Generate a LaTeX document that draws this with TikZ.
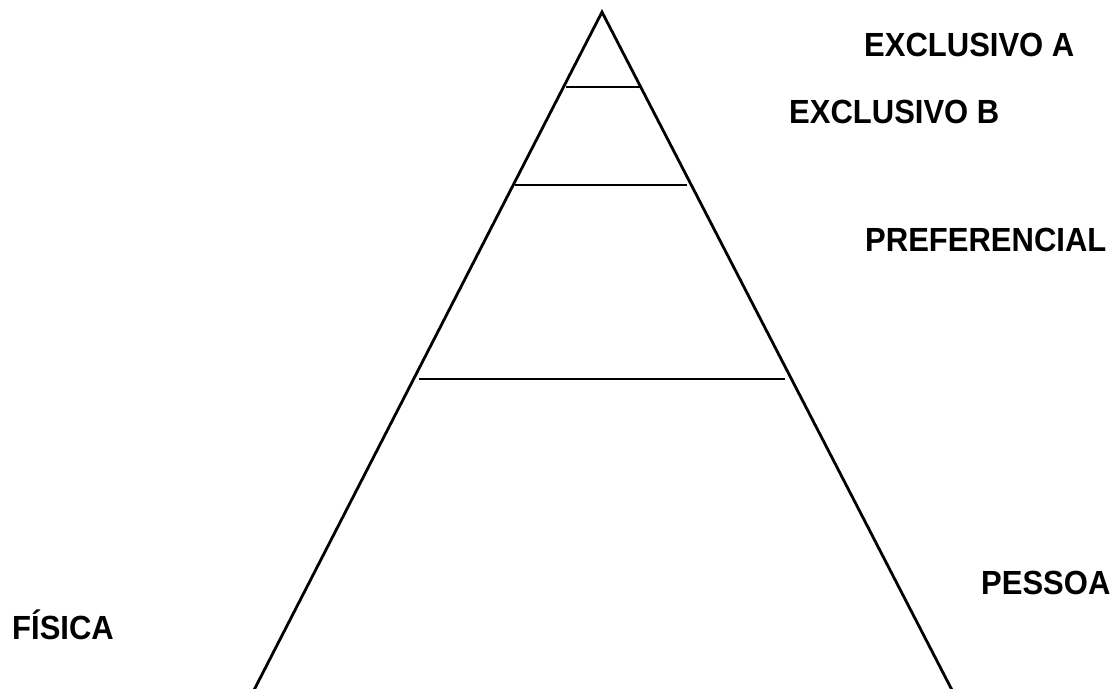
\documentclass[tikz,border=0pt]{standalone}
\usepackage{fontspec}
\setmainfont{Liberation Sans}
\newcommand\mytall[1]{\scalebox{1}[1.08]{#1}}
\begin{document}
\begin{tikzpicture}[x=1pt,y=-1pt,
  edge/.style={line width=2.8pt,line join=miter},
  band/.style={line width=2.2pt},
  lab/.style={font=\fontsize{31}{31}\selectfont\bfseries,anchor=base west,inner sep=0pt}]
\useasboundingbox (0,0) rectangle (1119,688);
\coordinate (apex) at (602,12);
\coordinate (bl) at (253,692);
\coordinate (br) at (953,692);
\draw[edge] (bl) -- (apex) -- (br);
\coordinate (a1) at (566,87); \coordinate (a2) at (640,87);
\coordinate (b1) at (515,185); \coordinate (b2) at (687,185);
\coordinate (c1) at (419,379); \coordinate (c2) at (785,379);
\draw[band] (a1) -- (a2);
\draw[band] (b1) -- (b2);
\draw[band] (c1) -- (c2);
\node[lab] (exa) at (864,56) {\mytall{EXCLUSIVO A}};
\node[lab] (exb) at (789,123) {\mytall{EXCLUSIVO B}};
\node[lab] (pref) at (865,251) {\mytall{PREFERENCIAL}};
\node[lab] (pes) at (981,594) {\mytall{PESSOA}};
\node[lab] (fis) at (12,639) {\mytall{FÍSICA}};
\end{tikzpicture}
\end{document}
